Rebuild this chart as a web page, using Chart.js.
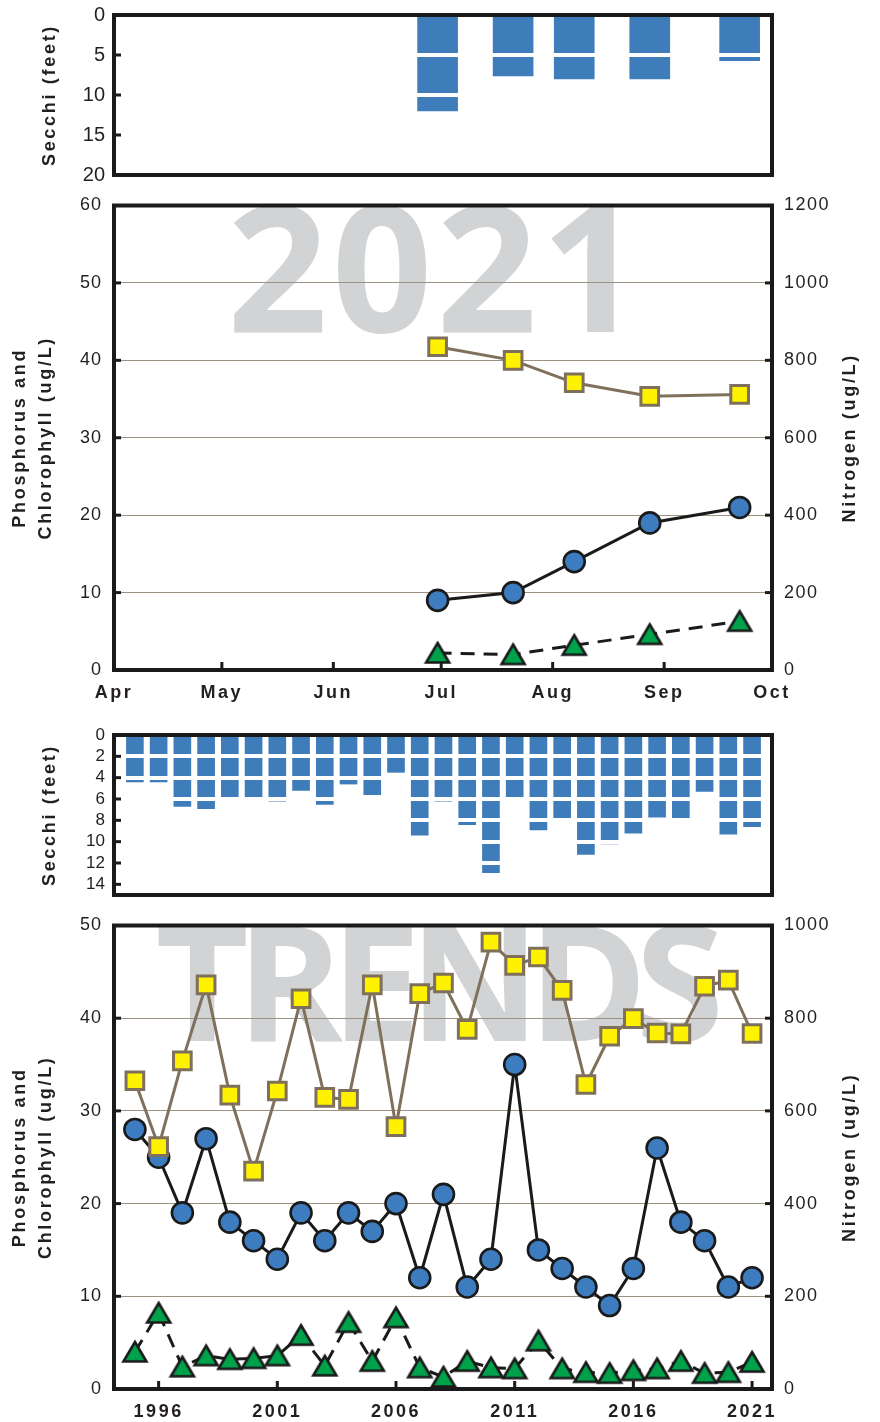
<!DOCTYPE html>
<html>
<head>
<meta charset="utf-8">
<title>Lake water quality 2021 and trends</title>
<script src="https://cdn.jsdelivr.net/npm/chart.js@4.4.1/dist/chart.umd.min.js"></script>
<style>
  body { margin: 0; background: #fff; }
  canvas { position: absolute; left: 0; }
</style>
</head>
<body>
<canvas id="secchiYear" width="880" height="190" style="top:0"></canvas>
<canvas id="chemYear" width="880" height="530" style="top:190px"></canvas>
<canvas id="secchiTrend" width="880" height="190" style="top:720px"></canvas>
<canvas id="chemTrend" width="880" height="512" style="top:910px"></canvas>
<script>
// ---- 2021 season (x = day of year) ----
const sampleDays = [181, 202, 219, 240, 265];
const secchi2021 = [12.0, 7.6, 8.0, 8.0, 5.7];
const circles2021 = [9, 10, 14, 19, 21];
const triangles2021 = [2.2, 2.0, 3.2, 4.6, 6.3];
const nitrogen2021 = [835, 800, 742, 707, 712];

const monthLabels = ['Apr', 'May', 'Jun', 'Jul', 'Aug', 'Sep', 'Oct'];
const monthStarts = [91, 121, 152, 182, 213, 244, 274];

// ---- yearly trends ----
const trendYears = [1995, 1996, 1997, 1998, 1999, 2000, 2001, 2002, 2003, 2004, 2005, 2006, 2007, 2008,
                    2009, 2010, 2011, 2012, 2013, 2014, 2015, 2016, 2017, 2018, 2019, 2020, 2021];
const secchiTrend = [4.4, 4.4, 6.7, 6.9, 5.8, 5.8, 6.2, 5.2, 6.5, 4.6, 5.6, 3.5, 9.4, 6.2,
                     8.4, 12.9, 5.8, 8.9, 7.8, 11.2, 10.2, 9.2, 7.7, 8.1, 5.3, 9.3, 8.6];
const circlesTrend = [28, 25, 19, 27, 18, 16, 14, 19, 16, 19, 17, 20, 12, 21,
                      11, 14, 35, 15, 13, 11, 9, 13, 26, 18, 16, 11, 12];
const trianglesTrend = [4.0, 8.2, 2.4, 3.6, 3.2, 3.3, 3.6, 5.8, 2.5, 7.2, 3.0, 7.7, 2.3, 1.3,
                        3.0, 2.3, 2.2, 5.2, 2.2, 1.8, 1.7, 2.0, 2.2, 3.0, 1.7, 1.8, 2.9];
const nitrogenTrend = [665, 523, 708, 872, 634, 470, 643, 842, 629, 625, 872, 566, 853, 876,
                       776, 964, 914, 932, 860, 657, 761, 799, 768, 766, 869, 882, 767];
const trendTicks = [1996, 2001, 2006, 2011, 2016, 2021];

const TEXT = '#231f20';
const BAR_BLUE = '#3f7cba';
const CIRCLE_BLUE = '#3d7cbf';
const GREEN = '#00a14b';
const YELLOW = '#fff200';
const BROWN = '#7f705c';
const GRID = '#9c9182';
const FONT = "'Liberation Sans', Arial, sans-serif";
const NARROW = "'Liberation Sans Narrow', 'Liberation Sans', sans-serif";

const pts = (xs, ys) => xs.map((x, i) => ({x: x, y: ys[i]}));

// excel style triangle, centred on its bounding box
function triangleSprite() {
  const c = document.createElement('canvas');
  c.width = 30; c.height = 28;
  const g = c.getContext('2d');
  g.beginPath();
  g.moveTo(15, 4);
  g.lineTo(26.5, 23.5);
  g.lineTo(3.5, 23.5);
  g.closePath();
  g.fillStyle = GREEN;
  g.fill();
  g.lineWidth = 2.6;
  g.strokeStyle = '#1a1a1a';
  g.stroke();
  return c;
}
const tri = triangleSprite();

// fixed axis sizes, no extra room for label overhang
const fixWidth = w => s => { s.width = w; s.paddingTop = 0; s.paddingBottom = 0; };
const fixHeight = h => s => { s.height = h; s.paddingLeft = 0; s.paddingRight = 0; };

// black frame round the plot area + inward tick marks
const framePlugin = {
  id: 'frame',
  afterDraw(chart, args, opts) {
    const {ctx, chartArea: a} = chart;
    ctx.save();
    ctx.strokeStyle = '#1a1a1a';
    ctx.lineWidth = 3;
    (opts.stubs || []).forEach(id => {
      const s = chart.scales[id];
      s.ticks.forEach(t => {
        const p = s.getPixelForValue(t.value);
        ctx.beginPath();
        if (s.isHorizontal()) { ctx.moveTo(p, a.bottom); ctx.lineTo(p, a.bottom - 8); }
        else if (s.position === 'left') { ctx.moveTo(a.left, p); ctx.lineTo(a.left + 7, p); }
        else { ctx.moveTo(a.right, p); ctx.lineTo(a.right - 7, p); }
        ctx.stroke();
      });
    });
    ctx.lineWidth = 4;
    ctx.strokeRect(a.left, a.top, a.width, a.height);
    ctx.restore();
  }
};

// big grey word behind the data
const watermarkPlugin = {
  id: 'watermark',
  beforeDraw(chart, args, opts) {
    if (!opts.text) return;
    const {ctx, chartArea: a} = chart;
    ctx.save();
    ctx.font = opts.font;
    ctx.letterSpacing = opts.spacing || '0px';
    ctx.fillStyle = '#d1d3d4';
    ctx.textAlign = 'center';
    ctx.textBaseline = 'alphabetic';
    ctx.fillText(opts.text, a.left + a.width * opts.cx, a.top + opts.baseline);
    ctx.restore();
  }
};

// right axis title reads bottom to top
const rightTitlePlugin = {
  id: 'rightTitle',
  afterDraw(chart, args, opts) {
    if (!opts.text) return;
    const {ctx, chartArea: a} = chart;
    ctx.save();
    ctx.translate(opts.x, (a.top + a.bottom) / 2);
    ctx.rotate(-Math.PI / 2);
    ctx.font = 'bold 18px ' + FONT;
    ctx.letterSpacing = '2.7px';
    ctx.fillStyle = TEXT;
    ctx.textAlign = 'center';
    ctx.textBaseline = 'middle';
    ctx.fillText(opts.text, 0, 0);
    ctx.restore();
  }
};

// letter spacing for tick labels and titles
const spacingPlugin = {
  id: 'spacing',
  afterLayout(chart, args, opts) {
    Object.values(chart.scales).forEach(scale => {
      if (scale._spaced) return;
      scale._spaced = true;
      const wrap = (name, ls) => {
        const orig = scale[name];
        scale[name] = function (...a) {
          this.ctx.save();
          this.ctx.letterSpacing = ls;
          orig.apply(this, a);
          this.ctx.restore();
        };
      };
      wrap('drawLabels', (opts.ticks && opts.ticks[scale.id]) || '0px');
      wrap('drawTitle', opts.title || '0px');
    });
  }
};

const PLUGINS = [framePlugin, watermarkPlugin, rightTitlePlugin, spacingPlugin];

function secchiAxis(max, step, size) {
  return {
    reverse: true, min: 0, max: max,
    ticks: { stepSize: step, includeBounds: false, autoSkip: false, padding: 9, color: TEXT,
             font: { family: NARROW, size: size } },
    grid: { color: '#ffffff', lineWidth: 4, z: 1, drawTicks: false },
    border: { display: false },
    title: { display: true, text: 'Secchi (feet)', color: TEXT, padding: { top: 39 },
             font: { family: FONT, size: 18, weight: 'bold' } },
    afterFit: fixWidth(114)
  };
}

function leftChemAxis(max) {
  return {
    position: 'left', min: 0, max: max,
    ticks: { stepSize: 10, autoSkip: false, padding: 12, color: TEXT, font: { family: FONT, size: 18 } },
    grid: { color: GRID, lineWidth: 1, drawTicks: false },
    border: { display: false },
    title: { display: true, text: ['Phosphorus and', 'Chlorophyll (ug/L)'], color: TEXT, padding: { top: 7 },
             font: { family: FONT, size: 18, weight: 'bold', lineHeight: 1.45 } },
    afterFit: fixWidth(114)
  };
}

function rightChemAxis(max) {
  return {
    position: 'right', min: 0, max: max,
    ticks: { stepSize: 200, autoSkip: false, padding: 12, color: TEXT, font: { family: FONT, size: 18 },
             callback: v => String(v) },
    grid: { display: false, drawTicks: false },
    border: { display: false },
    afterFit: fixWidth(108)
  };
}

function chemDatasets(xs, circles, triangles, nitrogen) {
  return [
    { data: pts(xs, nitrogen), yAxisID: 'yN', borderColor: BROWN, borderWidth: 3,
      pointStyle: 'rect', pointRadius: 12.5, pointBackgroundColor: YELLOW,
      pointBorderColor: BROWN, pointBorderWidth: 3, clip: false },
    { data: pts(xs, circles), yAxisID: 'y', borderColor: '#1a1a1a', borderWidth: 3,
      pointStyle: 'circle', pointRadius: 10.5, pointBackgroundColor: CIRCLE_BLUE,
      pointBorderColor: '#1a1a1a', pointBorderWidth: 2.6, clip: false },
    { data: pts(xs, triangles), yAxisID: 'y', borderColor: '#1a1a1a', borderWidth: 3,
      borderDash: [14, 9], pointStyle: tri, pointRadius: 12, clip: false }
  ];
}

const xTickFont = { family: FONT, size: 18, weight: 'bold' };
const noLegend = { legend: { display: false }, tooltip: { enabled: false } };

// ---- 2021 secchi ----
new Chart(document.getElementById('secchiYear'), {
  type: 'bar',
  data: { datasets: [{ data: pts(sampleDays, secchi2021), backgroundColor: BAR_BLUE, barThickness: 40 }] },
  options: {
    responsive: false, animation: false,
    layout: { padding: { top: 15, bottom: 15, left: 0, right: 108 } },
    plugins: Object.assign({ frame: { stubs: ['y'] }, spacing: { title: '2.7px' } }, noLegend),
    scales: {
      x: { type: 'linear', min: 91, max: 274, offset: false, display: false },
      y: secchiAxis(20, 5, 20)
    }
  },
  plugins: PLUGINS
});

// ---- 2021 chemistry ----
new Chart(document.getElementById('chemYear'), {
  type: 'line',
  data: { datasets: chemDatasets(sampleDays, circles2021, triangles2021, nitrogen2021) },
  options: {
    responsive: false, animation: false,
    layout: { padding: { top: 13, bottom: 5, left: 0, right: 0 } },
    plugins: Object.assign({
      frame: { stubs: ['x', 'y', 'yN'] },
      watermark: { text: '2021', font: "bold 176px 'Open Sans', sans-serif", spacing: '4px', cx: 0.49, baseline: 126 },
      rightTitle: { text: 'Nitrogen (ug/L)', x: 850 },
      spacing: { ticks: { x: '2.5px', y: '1px', yN: '1.5px' }, title: '2.7px' }
    }, noLegend),
    scales: {
      x: {
        type: 'linear', min: 91, max: 274,
        afterBuildTicks: s => { s.ticks = monthStarts.map(v => ({ value: v })); },
        ticks: { autoSkip: false, maxRotation: 0, padding: 12, color: TEXT, font: xTickFont,
                 callback: v => monthLabels[monthStarts.indexOf(v)] },
        grid: { display: false, drawTicks: false },
        border: { display: false },
        afterFit: fixHeight(45)
      },
      y: leftChemAxis(60),
      yN: rightChemAxis(1200)
    }
  },
  plugins: PLUGINS
});

// ---- secchi trend ----
new Chart(document.getElementById('secchiTrend'), {
  type: 'bar',
  data: { datasets: [{ data: pts(trendYears, secchiTrend), backgroundColor: BAR_BLUE, barThickness: 17 }] },
  options: {
    responsive: false, animation: false,
    layout: { padding: { top: 15, bottom: 15, left: 0, right: 108 } },
    plugins: Object.assign({ frame: { stubs: ['y'] }, spacing: { title: '2.7px' } }, noLegend),
    scales: {
      x: { type: 'linear', min: 1994.12, max: 2021.84, offset: false, display: false },
      y: secchiAxis(15, 2, 17)
    }
  },
  plugins: PLUGINS
});

// ---- chemistry trend ----
new Chart(document.getElementById('chemTrend'), {
  type: 'line',
  data: { datasets: chemDatasets(trendYears, circlesTrend, trianglesTrend, nitrogenTrend) },
  options: {
    responsive: false, animation: false,
    layout: { padding: { top: 14, bottom: 0, left: 0, right: 0 } },
    plugins: Object.assign({
      frame: { stubs: ['x', 'y', 'yN'] },
      watermark: { text: 'TRENDS', font: "bold 161px 'Open Sans', sans-serif", spacing: '-12px', cx: 0.486, baseline: 115 },
      rightTitle: { text: 'Nitrogen (ug/L)', x: 850 },
      spacing: { ticks: { x: '2.5px', y: '1px', yN: '1.5px' }, title: '2.7px' }
    }, noLegend),
    scales: {
      x: {
        type: 'linear', min: 1994.12, max: 2021.84,
        afterBuildTicks: s => { s.ticks = trendTicks.map(v => ({ value: v })); },
        ticks: { autoSkip: false, maxRotation: 0, padding: 12, color: TEXT, font: xTickFont,
                 callback: v => String(v) },
        grid: { display: false, drawTicks: false },
        border: { display: false },
        afterFit: fixHeight(33)
      },
      y: leftChemAxis(50),
      yN: rightChemAxis(1000)
    }
  },
  plugins: PLUGINS
});
</script>
</body>
</html>
